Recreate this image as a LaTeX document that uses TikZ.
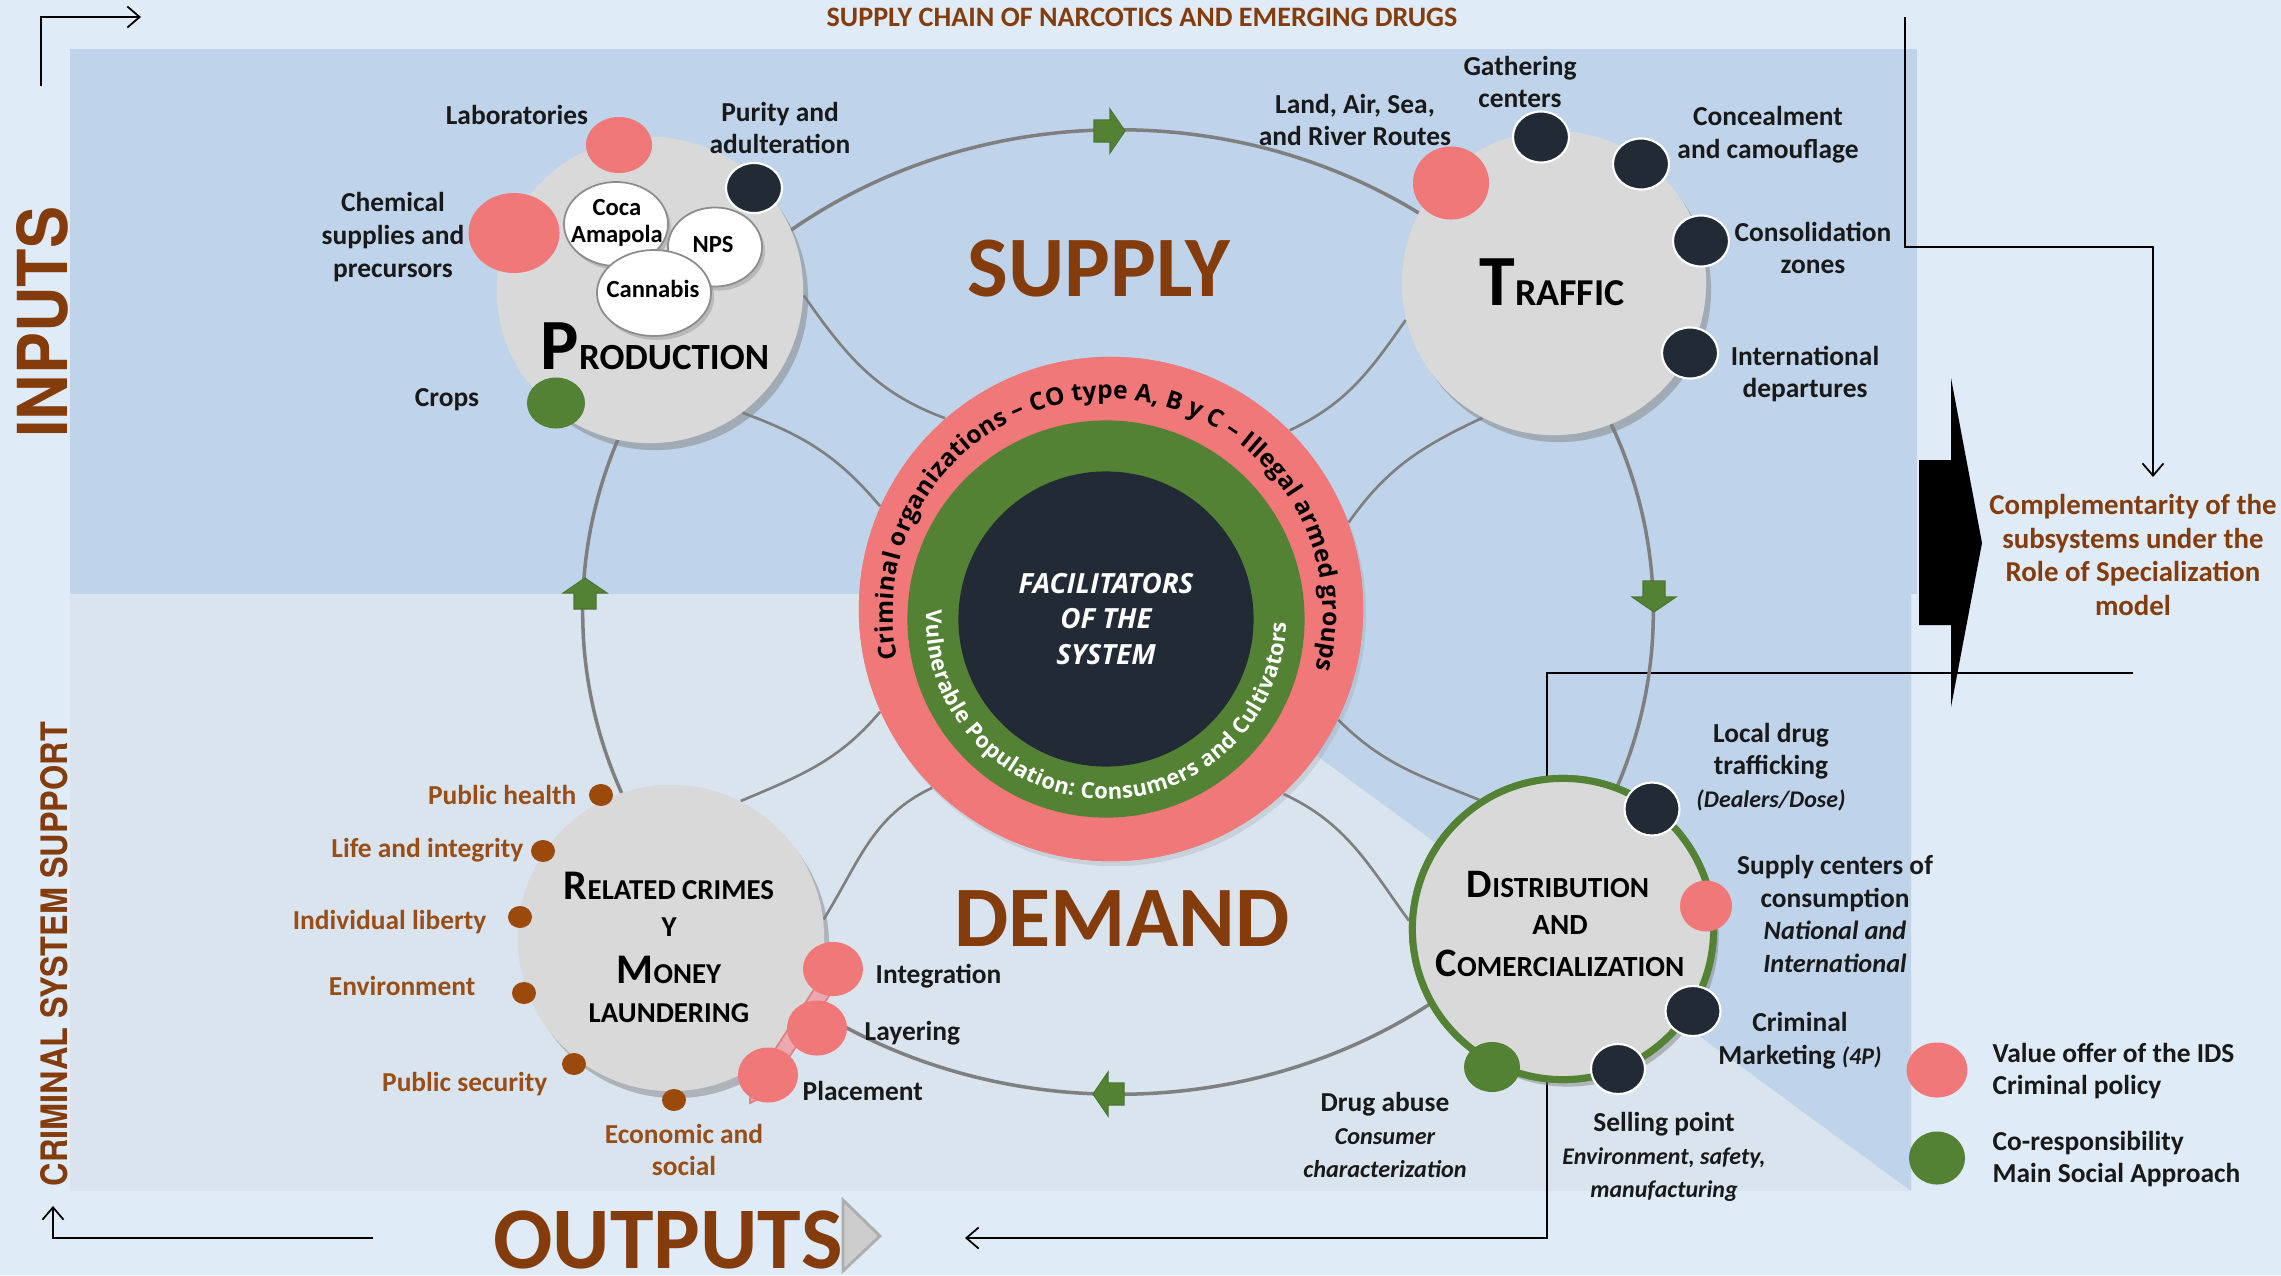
\documentclass[tikz,border=0pt]{standalone}
\usepackage{fontspec}
\setmainfont{Carlito}
\newfontfamily\osans{Open Sans}
\newfontfamily\heros{TeX Gyre Heros}
\usepackage{graphicx}
\usetikzlibrary{shapes.geometric,shadows,decorations.text,arrows.meta}
\definecolor{cbg}{HTML}{DFEBF7}
\definecolor{cup}{HTML}{BFD4EA}
\definecolor{clow}{HTML}{D9E4EF}
\definecolor{cpink}{HTML}{F07878}
\definecolor{cdark}{HTML}{222A35}
\definecolor{cgreen}{HTML}{548235}
\definecolor{cgreendk}{HTML}{4A7530}
\definecolor{cgrey}{HTML}{D9D9D9}
\definecolor{cline}{HTML}{7F7F7F}
\definecolor{ctitle}{HTML}{843C0C}
\definecolor{clabel}{HTML}{984E16}
\definecolor{cbdot}{HTML}{9C4A0B}
\definecolor{cband}{HTML}{EBA8B0}
\definecolor{cbandedge}{HTML}{E07F86}
\newcommand\myfs[2]{\fontsize{#1}{#2}\selectfont}
\begin{document}
\begin{tikzpicture}[x=0.01cm,y=0.01cm,
  bigc/.style={circle, fill=cgrey, inner sep=0pt,
    drop shadow={shadow xshift=0.05cm, shadow yshift=-0.07cm, opacity=0.28}},
  sat/.style 2 args={ellipse, inner sep=0pt, minimum width=#1cm, minimum height=#2cm},
  pinkdot/.style={fill=cpink},
  darkdot/.style={fill=cdark, draw=white, line width=0.6pt},
  greendot/.style={fill=cgreen},
  browndot/.style={fill=cbdot},
  whitec/.style={ellipse, fill=white, draw=black!45, line width=0.5pt, inner sep=0pt,
    drop shadow={shadow xshift=0.03cm, shadow yshift=-0.04cm, opacity=0.35}},
  lbl/.style={font=\bfseries\myfs{7.8}{9.3}, align=center, inner sep=0pt, text=black!90},
  blbl/.style={font=\bfseries\myfs{7.8}{9.3}, align=center, inner sep=0pt, text=clabel},
  spoke/.style={draw=cline, line width=0.75pt},
  carrow/.style={draw=black, line width=0.5pt, -{Straight Barb[length=3.5pt,width=6pt]}},
  garrow/.pic={\fill[cgreen, draw=cgreendk, line width=0.3pt]
    (-16,-11) -- (0,-11) -- (0,-22) -- (15,0) -- (0,22) -- (0,11) -- (-16,11) -- cycle;}
]
\useasboundingbox (0,0) rectangle (2281,-1275);
% backgrounds
\fill[cbg] (0,0) rectangle (2281,-1275);
\fill[cup] (70,-49) rectangle (1917,-594);
\fill[clow] (70,-594) rectangle (1911,-1191);
\fill[cup] (1096,-594) -- (1911,-594) -- (1911,-1191) -- cycle;

% title and side words
\node[font=\bfseries\myfs{8}{9}, text=ctitle, anchor=base, inner sep=0pt] (title) at (1142,-26) {SUPPLY CHAIN OF NARCOTICS AND EMERGING DRUGS};
\node[rotate=90, inner sep=0pt, text=ctitle] (inputs) at (42,-322) {\resizebox{2.31cm}{0.51cm}{\heros\bfseries INPUTS}};
\node[rotate=90, inner sep=0pt, text=ctitle] (css) at (54,-954) {\resizebox{4.64cm}{0.27cm}{\heros\bfseries CRIMINAL SYSTEM SUPPORT}};
\node[font=\bfseries\myfs{25}{25}, text=ctitle, anchor=base, inner sep=0pt] (outputs) at (668,-1268) {OUTPUTS};
\draw[fill=black!20, draw=black!32, line width=0.8pt] (843,-1200) -- (880,-1236) -- (843,-1271) -- cycle;
\node[font=\bfseries\myfs{24.5}{25}, text=ctitle, anchor=base, inner sep=0pt] (supply) at (1099,-296) {SUPPLY};
\node[font=\bfseries\myfs{24.5}{25}, text=ctitle, anchor=base, inner sep=0pt] (demand) at (1122,-946) {DEMAND};
\node[font=\bfseries\myfs{8.2}{9.6}, text=ctitle, align=center, inner sep=0pt] (compl) at (2133,-555) {Complementarity of the\\subsystems under the\\Role of Specialization\\model};

% big black arrow
\fill[black] (1919,-460) -- (1951,-460) -- (1951,-378) -- (1982,-543) -- (1951,-707) -- (1951,-625) -- (1919,-625) -- cycle;

% corner connectors
\coordinate (tl1) at (41,-86); \coordinate (tl2) at (41,-17); \coordinate (tl3) at (141,-17);
\draw[carrow] (tl1) -- (tl2) -- (tl3);
\coordinate (tr1) at (1905,-17); \coordinate (tr2) at (1905,-247); \coordinate (tr3) at (2153,-247); \coordinate (tr4) at (2153,-477);
\draw[carrow] (tr1) -- (tr2) -- (tr3) -- (tr4);
\coordinate (bl1) at (373,-1238); \coordinate (bl2) at (53,-1238); \coordinate (bl3) at (53,-1206);
\draw[carrow] (bl1) -- (bl2) -- (bl3);
\coordinate (br1) at (2133,-673); \coordinate (br2) at (1547,-673); \coordinate (br3) at (1547,-1238); \coordinate (br4) at (965,-1238);
\draw[carrow] (br1) -- (br2) -- (br3) -- (br4);

% main loop
\draw[draw=cline, line width=1pt] (1118,-612) ellipse [x radius=5.35cm, y radius=4.82cm];

% circles (defined first so spokes can use them)
\node[bigc, minimum size=3.06cm] (prod) at (650,-290) {};
\node[bigc, minimum size=3.04cm] (traf) at (1554,-283) {};
\node[bigc, minimum size=3.06cm] (rel) at (671,-938) {};
\node[bigc, draw=cgreen, line width=0.07cm, minimum size=3.01cm] (dist) at (1563,-929) {};
\node[circle, fill=cpink, minimum size=5.04cm, inner sep=0pt] (crim) at (1111,-609) {};

% spokes
\draw[spoke] (prod.-2) to[out=-55, in=160] (crim.131);
\draw[spoke] (prod.-53) to[out=-20, in=130] (crim.156);
\draw[spoke] (traf.194) to[out=-125, in=25] (crim.45);
\draw[spoke] (traf.242) to[out=-155, in=55] (crim.20);
\draw[spoke] (rel.63) to[out=23, in=-130] (crim.204);
\draw[spoke] (rel.7) to[out=58, in=-155] (crim.225);
\draw[spoke] (dist.123) to[out=158, in=-45] (crim.334);
\draw[spoke] (dist.177) to[out=126, in=-25] (crim.313);

% redraw circles over spokes
\node[bigc, minimum size=3.06cm] (prodc) at (prod) {};
\node[bigc, minimum size=3.04cm] (trafc) at (traf) {};
\node[bigc, minimum size=3.06cm] (relc) at (rel) {};
\node[bigc, draw=cgreen, line width=0.07cm, minimum size=3.01cm] (distc) at (dist) {};
\node[circle, fill=cpink, minimum size=5.04cm, inner sep=0pt,
  drop shadow={shadow xshift=0.03cm, shadow yshift=-0.05cm, opacity=0.18}] (crimc) at (crim) {};
\node[circle, fill=cgreen, minimum size=3.97cm, inner sep=0pt] (vuln) at (1106,-619) {};
\node[circle, fill=cdark, minimum size=2.95cm, inner sep=0pt, text=white, align=center,
  font=\osans\bfseries\itshape\myfs{7.9}{10.2}] (fac) at (1106,-619) {FACILITATORS\\OF THE\\SYSTEM};

% ring texts
\path[decorate, decoration={text along path, text align=fit to path, text color=black,
  text={|\osans\bfseries\myfs{6.95}{8}|Criminal organizations – CO type A, B y C – Illegal armed groups}}]
  (1108,-614) ++(192:2.15cm) arc[start angle=192, end angle=-15, radius=2.15cm];
\path[decorate, decoration={text along path, text align=fit to path, text color=white,
  text={|\osans\bfseries\myfs{6.25}{7}|Vulnerable Population: Consumers and Cultivators}}]
  (1106,-619) ++(177:1.80cm) arc[start angle=177, end angle=359, radius=1.80cm];

% green flow arrows
\pic at (1110,-131) {garrow};
\pic[rotate=-90] at (1654,-597) {garrow};
\pic[rotate=180] at (1108,-1094) {garrow};
\pic[rotate=90] at (585,-593) {garrow};

% production satellites
\node[sat={0.66}{0.56}, pinkdot] (lab) at (619,-145) {};
\node[sat={0.91}{0.80}, pinkdot] (chem) at (514,-233) {};
\node[sat={0.56}{0.50}, darkdot] (pur) at (754,-188) {};
\node[sat={0.58}{0.51}, greendot] (crops) at (556,-403) {};
\node[whitec, minimum width=1.04cm, minimum height=0.84cm] (coca) at (616,-224) {};
\node[whitec, minimum width=0.94cm, minimum height=0.79cm] (nps) at (715,-247) {};
\node[whitec, minimum width=1.14cm, minimum height=0.86cm] (cann) at (654,-293) {};
\node[font=\bfseries\myfs{7}{7.8}, align=center, inner sep=0pt] (cocat) at (617,-223) {Coca\\Amapola};
\node[font=\bfseries\myfs{7}{7.8}, inner sep=0pt] (npst) at (713,-245) {NPS};
\node[font=\bfseries\myfs{7}{7.8}, inner sep=0pt] (cannt) at (653,-289) {Cannabis};
\node[anchor=base, inner sep=0pt] (prodl) at (655,-369) {\bfseries{\myfs{20.5}{20}P}{\myfs{10.5}{10}RODUCTION}};
\node[lbl] (labl) at (517,-115) {Laboratories};
\node[lbl] (cheml) at (393,-237) {Chemical\\supplies and\\precursors};
\node[lbl] (purl) at (780,-128) {Purity and\\adulteration};
\node[lbl] (cropsl) at (447,-400) {Crops};

% traffic satellites
\node[sat={0.76}{0.73}, pinkdot] (land) at (1451,-183) {};
\node[sat={0.56}{0.51}, darkdot] (gath) at (1541,-137) {};
\node[sat={0.56}{0.51}, darkdot] (conc) at (1641,-164) {};
\node[sat={0.56}{0.51}, darkdot] (cons) at (1701,-241) {};
\node[sat={0.56}{0.51}, darkdot] (intl) at (1690,-353) {};
\node[anchor=base, inner sep=0pt] (trafl) at (1552,-305) {\bfseries{\myfs{20.5}{20}T}{\myfs{10.8}{10}RAFFIC}};
\node[lbl] (landl) at (1355,-120) {Land, Air, Sea,\\and River Routes};
\node[lbl] (gathl) at (1520,-82) {Gathering\\centers};
\node[lbl] (concl) at (1768,-135) {Concealment\\and camouflage};
\node[lbl] (consl) at (1813,-248) {Consolidation\\zones};
\node[lbl] (intll) at (1805,-374) {International\\departures};

% related crimes
\fill[cband, draw=cbandedge, line width=0.5pt] (826,-971) -- (759,-1074) -- (751,-1068) -- (750,-1103) -- (781,-1088) -- (773,-1082) -- (840,-979) -- cycle;
\node[sat={0.24}{0.22}, browndot] (ph) at (601,-795) {};
\node[sat={0.24}{0.22}, browndot] (life) at (543,-851) {};
\node[sat={0.24}{0.22}, browndot] (indiv) at (520,-917) {};
\node[sat={0.24}{0.22}, browndot] (env) at (524,-993) {};
\node[sat={0.24}{0.22}, browndot] (psec) at (574,-1064) {};
\node[sat={0.24}{0.22}, browndot] (econ) at (674,-1100) {};
\node[sat={0.60}{0.54}, pinkdot] (integ) at (833,-969) {};
\node[sat={0.60}{0.55}, pinkdot] (layer) at (817,-1028) {};
\node[sat={0.60}{0.55}, pinkdot] (place) at (768,-1075) {};
\node[anchor=base, inner sep=0pt] (rel1) at (669,-899) {\bfseries{\myfs{12}{12}R}{\myfs{8.2}{9}ELATED CRIMES}};
\node[anchor=base, inner sep=0pt] (rel2) at (669,-936) {\bfseries\myfs{8.2}{9}Y};
\node[anchor=base, inner sep=0pt] (rel3) at (669,-983) {\bfseries{\myfs{12}{12}M}{\myfs{8.2}{9}ONEY}};
\node[anchor=base, inner sep=0pt] (rel4) at (669,-1022) {\bfseries\myfs{8.2}{9}LAUNDERING};
\node[blbl, anchor=east] (phl) at (577,-795) {Public health};
\node[blbl, anchor=east] (lifel) at (524,-850) {Life and integrity};
\node[blbl, anchor=east] (indivl) at (487,-922) {Individual liberty};
\node[blbl, anchor=east] (envl) at (476,-986) {Environment};
\node[blbl, anchor=east] (psecl) at (548,-1084) {Public security};
\node[blbl] (econl) at (684,-1150) {Economic and\\social};
\node[lbl, anchor=west] (integl) at (875,-976) {Integration};
\node[lbl, anchor=west] (layerl) at (864,-1033) {Layering};
\node[lbl, anchor=west] (placel) at (802,-1091) {Placement};

% distribution
\node[sat={0.55}{0.53}, darkdot] (local) at (1652,-809) {};
\node[sat={0.52}{0.51}, pinkdot] (supc) at (1706,-906) {};
\node[sat={0.55}{0.50}, darkdot] (cmark) at (1693,-1011) {};
\node[sat={0.54}{0.50}, darkdot] (sell) at (1618,-1069) {};
\node[sat={0.56}{0.50}, greendot] (abuse) at (1492,-1067) {};
\node[anchor=base, inner sep=0pt] (dist1) at (1558,-897) {\bfseries{\myfs{11.5}{12}D}{\myfs{8.3}{9}ISTRIBUTION}};
\node[anchor=base, inner sep=0pt] (dist2) at (1560,-934) {\bfseries\myfs{8.3}{9}AND};
\node[anchor=base, inner sep=0pt] (dist3) at (1560,-976) {\bfseries{\myfs{11.5}{12}C}{\myfs{8.3}{9}OMERCIALIZATION}};
\node[lbl] (locall) at (1771,-767) {Local drug\\trafficking\\{\itshape\myfs{6.8}{8}(Dealers/Dose)}};
\node[lbl] (supcl) at (1835,-914) {Supply centers of\\consumption\\{\itshape\myfs{7.5}{8.5}National and}\\{\itshape\myfs{7.5}{8.5}International}};
\node[lbl] (cmarkl) at (1800,-1041) {Criminal\\Marketing {\itshape\myfs{6.8}{8}(4P)}};
\node[lbl] (abusel) at (1385,-1135) {Drug abuse\\{\itshape\myfs{6.9}{8}Consumer}\\{\itshape\myfs{6.9}{8}characterization}};
\node[lbl] (selll) at (1664,-1157) {Selling point\\{\itshape\myfs{6.8}{8}Environment, safety,}\\{\itshape\myfs{6.8}{8}manufacturing}};

% legend
\node[sat={0.61}{0.55}, pinkdot] (lpink) at (1937,-1070) {};
\node[sat={0.56}{0.53}, greendot] (lgreen) at (1937,-1158) {};
\node[lbl, align=left, anchor=west] (lpinkl) at (1992,-1071) {Value offer of the IDS\\Criminal policy};
\node[lbl, align=left, anchor=west] (lgreenl) at (1992,-1159) {Co-responsibility\\Main Social Approach};
\end{tikzpicture}
\end{document}
